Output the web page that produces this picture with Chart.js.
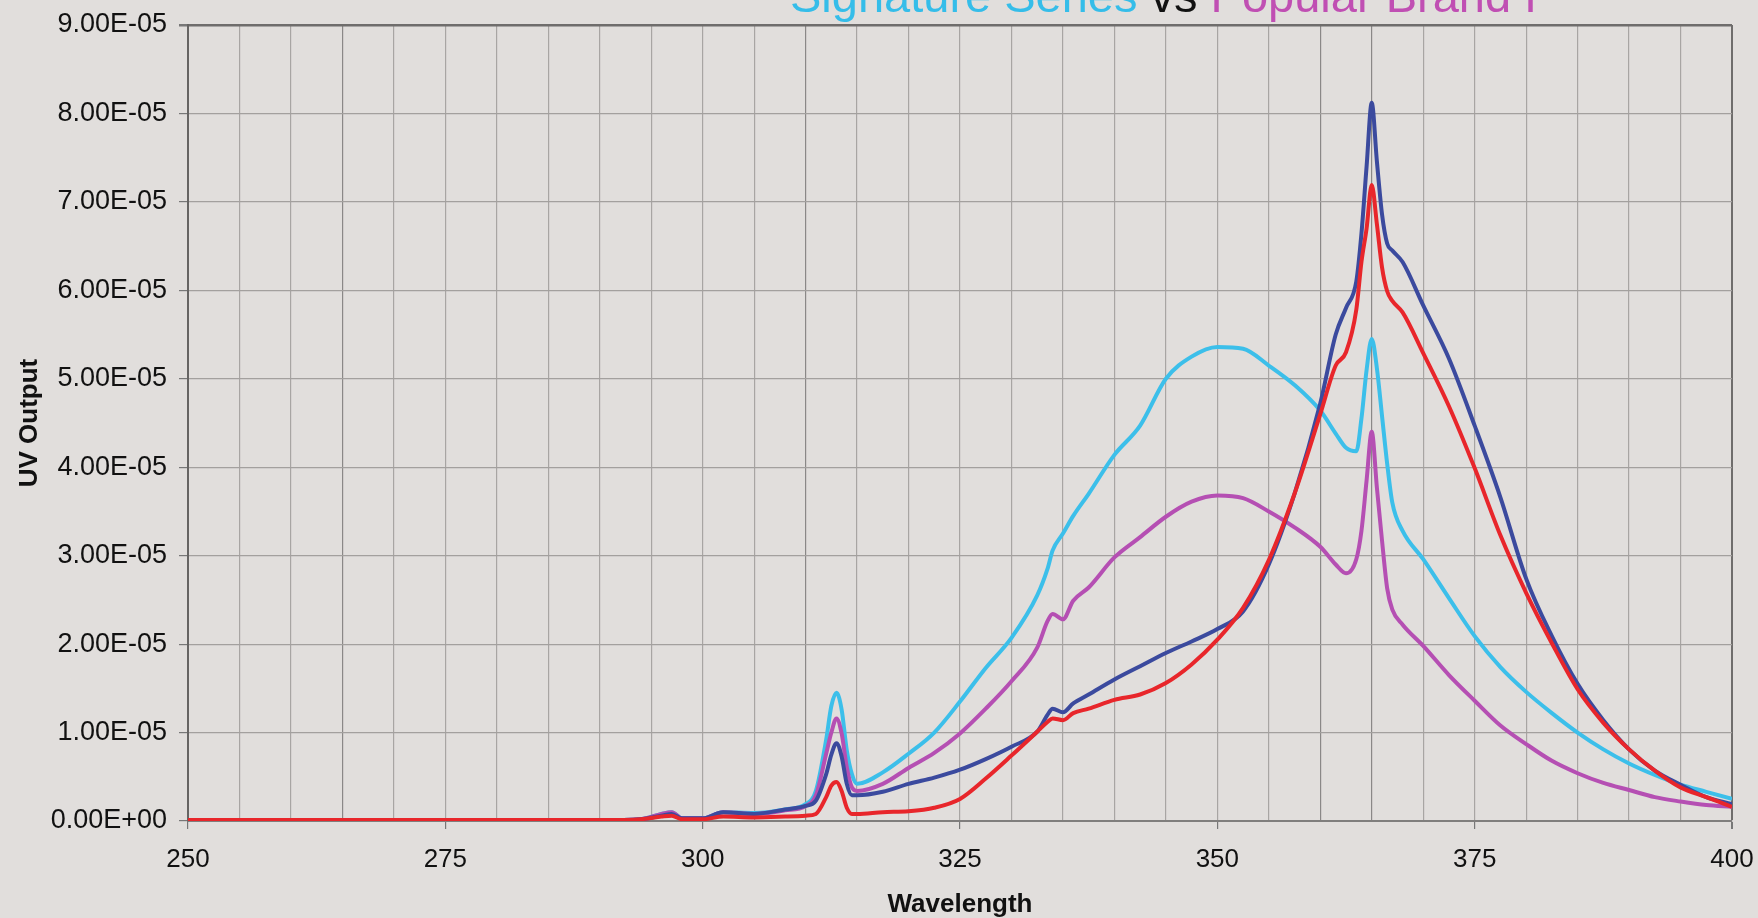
<!DOCTYPE html>
<html>
<head>
<meta charset="utf-8">
<script src="https://cdn.jsdelivr.net/npm/chart.js@4.4.0/dist/chart.umd.min.js"></script>
<style>
  html, body { margin: 0; padding: 0; background: #e1dedc; }
  #wrap { width: 1758px; height: 918px; }
</style>
</head>
<body>
<div id="wrap"><canvas id="uvChart" width="1758" height="918"></canvas></div>
<script>
// wavelengths (nm) shared by all four curves
const wavelengths = [
  250, 260, 270, 280, 285, 290, 294, 296, 297, 298,
  300, 302, 305, 308, 310, 311, 312, 312.5, 313, 313.5,
  314, 314.5, 315, 317.5, 320, 322.5, 325, 327.5, 330, 332.5,
  333.5, 334, 335, 336, 337.5, 340, 342.5, 345, 347.5, 350,
  352.5, 355, 357.5, 360, 361.5, 362.5, 363.5, 364, 364.5, 365,
  365.5, 366, 366.5, 367, 368, 370, 372.5, 375, 377.5, 380,
  382.5, 385, 387.5, 390, 392.5, 395, 397.5, 400
];

// UV output, in units of 1E-05
const cyanValues = [
  0, 0, 0, 0, 0.01, 0.01, 0.02, 0.08, 0.1, 0.03,
  0.03, 0.1, 0.09, 0.13, 0.19, 0.34, 0.92, 1.3, 1.45, 1.26,
  0.8, 0.53, 0.42, 0.55, 0.76, 1.0, 1.35, 1.73, 2.07, 2.55,
  2.85, 3.06, 3.25, 3.45, 3.7, 4.14, 4.47, 5.0, 5.25, 5.36,
  5.34, 5.15, 4.93, 4.64, 4.38, 4.22, 4.18, 4.55, 5.1, 5.45,
  5.12, 4.58, 4.04, 3.6, 3.28, 2.96, 2.52, 2.09, 1.74, 1.46,
  1.22, 1.0, 0.81, 0.65, 0.52, 0.41, 0.33, 0.25
];
const magentaValues = [
  0, 0, 0, 0, 0.01, 0.01, 0.02, 0.08, 0.1, 0.03,
  0.03, 0.1, 0.08, 0.12, 0.17, 0.29, 0.76, 1.0, 1.16, 0.99,
  0.61, 0.38, 0.34, 0.42, 0.6, 0.77, 0.99, 1.27, 1.58, 1.96,
  2.26, 2.34, 2.28, 2.49, 2.64, 2.98, 3.21, 3.44, 3.61, 3.68,
  3.65, 3.5, 3.32, 3.1, 2.9, 2.8, 2.96, 3.28, 3.85, 4.4,
  3.77, 3.17, 2.63, 2.39, 2.22, 1.98, 1.65, 1.36, 1.08, 0.87,
  0.68, 0.54, 0.43, 0.35, 0.27, 0.22, 0.18, 0.16
];
const blueValues = [
  0, 0, 0, 0, 0.01, 0.01, 0.02, 0.06, 0.08, 0.03,
  0.03, 0.1, 0.08, 0.13, 0.17, 0.23, 0.53, 0.75, 0.88, 0.73,
  0.42, 0.29, 0.29, 0.33, 0.42, 0.49, 0.58, 0.7, 0.84, 1.01,
  1.2, 1.27, 1.23, 1.33, 1.43, 1.6, 1.75, 1.9, 2.03, 2.17,
  2.37, 2.9, 3.7, 4.72, 5.5, 5.8, 6.1, 6.64, 7.4, 8.12,
  7.46, 6.86, 6.53, 6.45, 6.32, 5.83, 5.23, 4.47, 3.66, 2.74,
  2.09, 1.55, 1.14, 0.81, 0.57, 0.41, 0.27, 0.19
];
const redValues = [
  0.01, 0.01, 0.01, 0.01, 0.01, 0.01, 0.02, 0.05, 0.06, 0.02,
  0.02, 0.05, 0.04, 0.05, 0.06, 0.08, 0.27, 0.4, 0.44, 0.34,
  0.15, 0.08, 0.08, 0.1, 0.11, 0.15, 0.25, 0.48, 0.74, 1.01,
  1.12, 1.16, 1.14, 1.22, 1.27, 1.37, 1.43, 1.56, 1.77, 2.05,
  2.41, 2.95, 3.7, 4.6, 5.15, 5.3, 5.78, 6.32, 6.7, 7.19,
  6.75, 6.26, 5.99, 5.88, 5.75, 5.29, 4.69, 3.99, 3.23, 2.58,
  2.01, 1.49, 1.11, 0.81, 0.57, 0.38, 0.27, 0.16
];
const unit = 1e-5;

const xLabelTicks = [250, 275, 300, 325, 350, 375, 400];
const titleParts = [
  { text: "Signature Series", color: "#35bde9" },
  { text: " vs ", color: "#111111" },
  { text: "Popular Brand I", color: "#c04fb3" }
];

function toPoints(values) {
  return wavelengths.map((w, i) => ({ x: w, y: values[i] * unit }));
}

// excel style 9.00E-05
function sciLabel(v) {
  let [m, e] = Number(v).toExponential(2).split("e");
  let sign = e[0] === "-" ? "-" : "+";
  let digits = e.replace(/[+-]/, "").padStart(2, "0");
  return m + "E" + sign + digits;
}

// title sits above the plot, cut off by the top edge
const cutTitle = {
  id: "cutTitle",
  afterDraw(chart) {
    const ctx = chart.ctx;
    ctx.save();
    ctx.font = "47px 'Liberation Sans', Arial, sans-serif";
    ctx.textBaseline = "alphabetic";
    ctx.textAlign = "left";
    let x = 790;
    titleParts.forEach((p) => {
      ctx.fillStyle = p.color;
      ctx.fillText(p.text, x, 12);
      x += ctx.measureText(p.text).width;
    });
    ctx.restore();
  }
};

const line = (label, values, color) => ({
  label: label,
  data: toPoints(values),
  borderColor: color,
  backgroundColor: color,
  borderWidth: 4,
  pointRadius: 0,
  cubicInterpolationMode: "monotone",
  fill: false
});

const ctx = document.getElementById("uvChart").getContext("2d");

new Chart(ctx, {
  type: "line",
  data: {
    datasets: [
      line("Red", redValues, "#e8262b"),
      line("Blue", blueValues, "#3b4a9e"),
      line("Magenta", magentaValues, "#b54fb3"),
      line("Cyan", cyanValues, "#3cbfea")
    ]
  },
  options: {
    responsive: false,
    animation: false,
    devicePixelRatio: 1,
    layout: { padding: { top: 25, right: 26, left: 0, bottom: 0 } },
    plugins: {
      legend: { display: false },
      tooltip: { enabled: false }
    },
    scales: {
      x: {
        type: "linear",
        min: 250,
        max: 400,
        afterFit: (scale) => {
          scale.height = 97;
          scale.paddingLeft = 0;
          scale.paddingRight = 0;
        },
        ticks: {
          stepSize: 5,
          autoSkip: false,
          maxRotation: 0,
          padding: 15,
          color: "#111",
          font: { family: "'Liberation Sans', Arial", size: 26 },
          callback: (v) => (xLabelTicks.includes(v) ? String(v) : "")
        },
        grid: {
          color: (c) => {
            const v = c.tick && c.tick.value;
            if (v === 400) return "#6f6d6c";
            if (v === 265 || v === 310 || v === 360 || v === 365) return "#8a8887";
            return "#a8a5a3";
          },
          lineWidth: (c) => (c.tick && c.tick.value === 400 ? 2 : 1.2),
          tickLength: 8,
          tickColor: (c) => (c.tick && xLabelTicks.includes(c.tick.value) ? "#777" : "rgba(0,0,0,0)")
        },
        border: { display: true, color: "#807e7d", width: 2 },
        title: {
          display: true,
          text: "Wavelength",
          color: "#111",
          padding: { top: 0, bottom: 0 },
          font: { family: "'Liberation Sans', Arial", size: 26, weight: "bold", lineHeight: 1.0 }
        }
      },
      y: {
        min: 0,
        max: 9e-5,
        afterFit: (scale) => {
          scale.width = 188;
          scale.paddingTop = 0;
          scale.paddingBottom = 0;
        },
        ticks: {
          stepSize: 1e-5,
          padding: 12,
          color: "#111",
          font: { family: "'Liberation Sans', Arial", size: 27 },
          callback: (v) => sciLabel(v)
        },
        grid: {
          color: (c) => (c.index === 9 ? "#6f6d6c" : "#a3a09e"),
          lineWidth: (c) => (c.index === 9 ? 2.5 : 1.2),
          tickLength: 9,
          tickColor: "#777"
        },
        border: { display: true, color: "#666463", width: 2 },
        title: {
          display: true,
          text: "UV Output",
          color: "#111",
          padding: { top: 14, bottom: 0 },
          font: { family: "'Liberation Sans', Arial", size: 26, weight: "bold" }
        }
      }
    }
  },
  plugins: [cutTitle]
});
</script>
</body>
</html>
